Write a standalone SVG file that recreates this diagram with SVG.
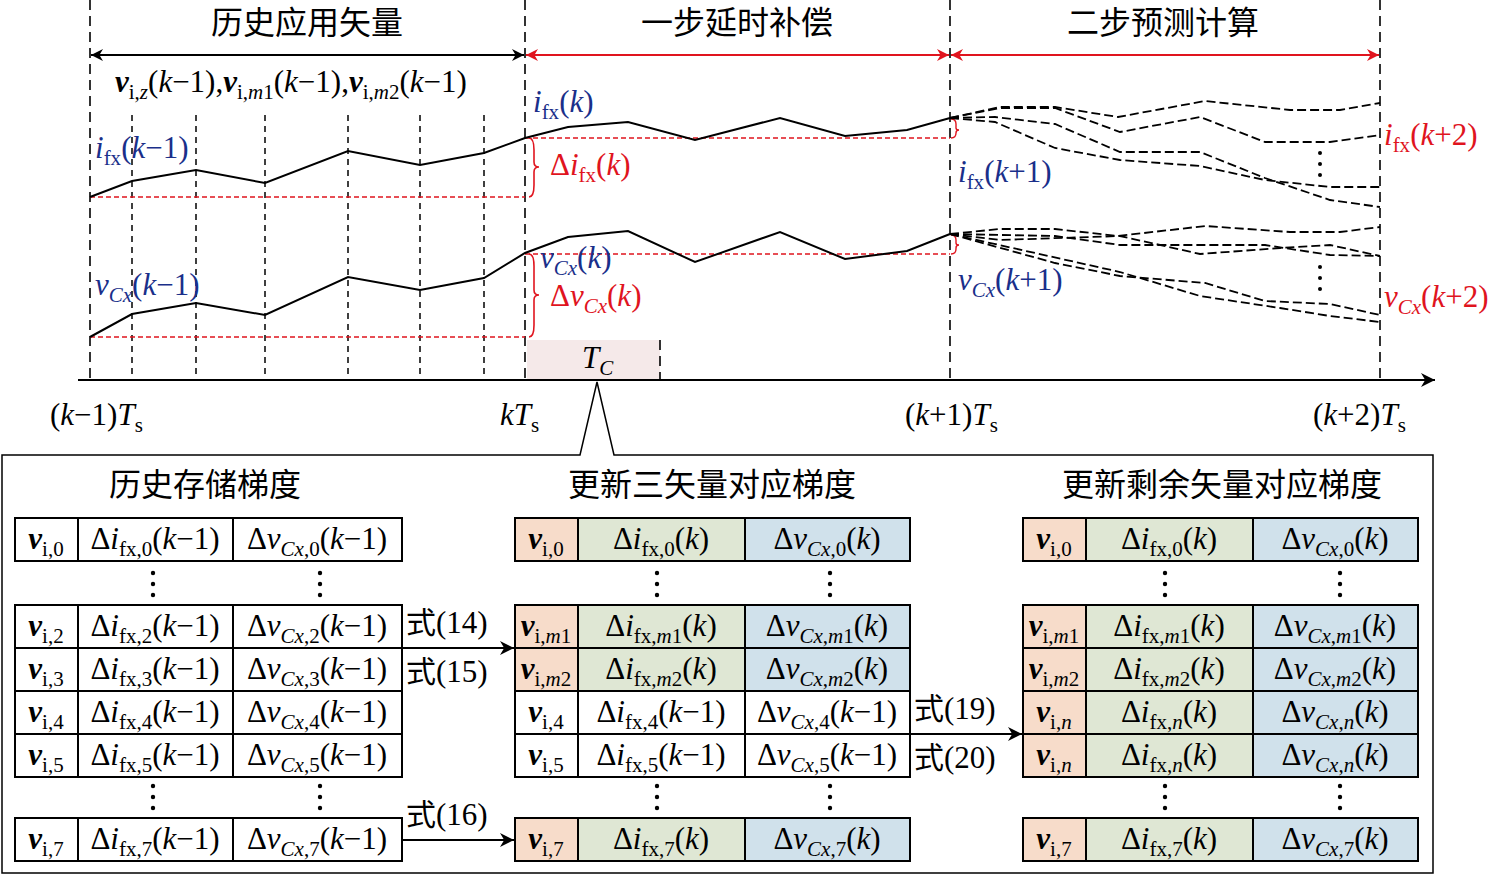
<svg xmlns="http://www.w3.org/2000/svg" width="1501" height="875" viewBox="0 0 1501 875">
<style>
text{font-family:"Liberation Serif","Times New Roman",serif;font-size:31px;fill:#000}
.cn{font-family:"Noto Sans CJK SC","Liberation Serif",sans-serif;font-size:32px}
.i{font-style:italic}
.b{font-style:italic;font-weight:bold}
.s{font-size:21px}
.blue{fill:#1a2f8a}
.red{fill:#e0141e}
.ld{stroke:#000;stroke-width:1.6;stroke-dasharray:10 6;fill:none}
.sd{stroke:#000;stroke-width:1.5;stroke-dasharray:6 5;fill:none}
.rd{stroke:#e0141e;stroke-width:1.5;stroke-dasharray:5 3;fill:none}
.cur{stroke:#000;stroke-width:2;fill:none}
.pd{stroke:#000;stroke-width:1.8;stroke-dasharray:9 4;fill:none}
.cell{stroke:#000;stroke-width:2;fill:#fff}
.o{stroke:#000;stroke-width:2;fill:#f7dcca}
.g{stroke:#000;stroke-width:2;fill:#dfe7d4}
.bl{stroke:#000;stroke-width:2;fill:#d0e1eb}
.dot{fill:#000}
</style>
<defs>
<marker id="ab" viewBox="0 0 10 10" refX="10" refY="5" markerWidth="12" markerHeight="12" orient="auto-start-reverse" markerUnits="userSpaceOnUse"><path d="M0,0 L10,5 L0,10 L3,5 z" fill="#000"/></marker>
<marker id="ar" viewBox="0 0 10 10" refX="10" refY="5" markerWidth="12" markerHeight="12" orient="auto-start-reverse" markerUnits="userSpaceOnUse"><path d="M0,0 L10,5 L0,10 L3,5 z" fill="#e0141e"/></marker>
<marker id="ax" viewBox="0 0 10 10" refX="10" refY="5" markerWidth="20" markerHeight="14" orient="auto" markerUnits="userSpaceOnUse"><path d="M0,0 L10,5 L0,10 L3,5 z" fill="#000"/></marker>
</defs>

<g id="timeline">
<rect x="527" y="340" width="133" height="40" fill="#f5e9e9"/>
<line class="ld" x1="660" y1="340" x2="660" y2="380"/>
<line class="ld" x1="90" y1="0" x2="90" y2="380"/>
<line class="ld" x1="525" y1="0" x2="525" y2="380"/>
<line class="ld" x1="950" y1="0" x2="950" y2="380"/>
<line class="ld" x1="1380" y1="0" x2="1380" y2="380"/>
<g class="sd">
<line x1="132" y1="115" x2="132" y2="380"/><line x1="196" y1="115" x2="196" y2="380"/><line x1="265" y1="115" x2="265" y2="380"/><line x1="348" y1="115" x2="348" y2="380"/><line x1="420" y1="115" x2="420" y2="380"/><line x1="484" y1="115" x2="484" y2="380"/>
</g>
<line x1="78" y1="380" x2="1435" y2="380" stroke="#000" stroke-width="2" marker-end="url(#ax)"/>
<line x1="91" y1="55" x2="524" y2="55" stroke="#000" stroke-width="2" marker-start="url(#ab)" marker-end="url(#ab)"/>
<line x1="526" y1="55" x2="949" y2="55" stroke="#e0141e" stroke-width="2" marker-start="url(#ar)" marker-end="url(#ar)"/>
<line x1="951" y1="55" x2="1379" y2="55" stroke="#e0141e" stroke-width="2" marker-start="url(#ar)" marker-end="url(#ar)"/>
<text class="cn" x="307" y="34" text-anchor="middle">历史应用矢量</text>
<text class="cn" x="737" y="34" text-anchor="middle">一步延时补偿</text>
<text class="cn" x="1163" y="34" text-anchor="middle">二步预测计算</text>
<text x="115" y="92"><tspan class="b">v</tspan><tspan class="s" dy="7">i,</tspan><tspan class="s i">z</tspan><tspan dy="-7">(</tspan><tspan class="i">k</tspan>−1),<tspan class="b">v</tspan><tspan class="s" dy="7">i,</tspan><tspan class="s i">m</tspan><tspan class="s">1</tspan><tspan dy="-7">(</tspan><tspan class="i">k</tspan>−1),<tspan class="b">v</tspan><tspan class="s" dy="7">i,</tspan><tspan class="s i">m</tspan><tspan class="s">2</tspan><tspan dy="-7">(</tspan><tspan class="i">k</tspan>−1)</text>

<path class="rd" d="M90,197 H525 M525,138 H950 M90,337 H525 M525,254 H950"/>
<path d="M529,138 Q534,138 534,150 V162 Q534,167 539,167 Q534,167 534,172 V185 Q534,197 529,197" stroke="#e0141e" stroke-width="1.6" fill="none"/>
<path d="M529,254 Q534,254 534,266 V290 Q534,295 539,295 Q534,295 534,300 V325 Q534,337 529,337" stroke="#e0141e" stroke-width="1.6" fill="none"/>
<path d="M951,119 Q956,119 956,124 V128 Q956,130 959,130 Q956,130 956,133 V133 Q956,138 951,138" stroke="#e0141e" stroke-width="1.4" fill="none"/>
<path d="M951,235 Q956,235 956,240 V243 Q956,245 959,245 Q956,245 956,248 V249 Q956,254 951,254" stroke="#e0141e" stroke-width="1.4" fill="none"/>

<polyline class="cur" points="90,197 132,181 196,170 265,183 348,151 420,165 484,153 525,138 568,127 628,122 695,140 780,118 845,136 907,130 950,118"/>
<polyline class="cur" points="90,337 132,314 196,303 265,315 348,277 420,290 484,278 525,253 568,237 628,231 695,262 780,232 845,259 907,251 950,234"/>

<polyline class="pd" points="950,118 1000,107 1055,107 1118,117 1205,101 1290,110 1340,110 1380,103"/>
<polyline class="pd" points="950,118 1000,108 1055,108 1120,132 1200,117 1265,142 1330,142 1380,135"/>
<polyline class="pd" points="950,118 995,117 1055,124 1120,152 1200,152 1265,178 1330,200 1380,207"/>
<polyline class="pd" points="950,118 995,122 1055,148 1120,160 1200,166 1265,180 1330,187 1380,187"/>
<polyline class="pd" points="950,234 1000,229 1055,229 1118,236 1205,226 1290,232 1340,232 1380,227"/>
<polyline class="pd" points="950,234 1055,236 1120,245 1200,245 1265,245 1330,255 1380,256"/>
<polyline class="pd" points="950,234 1000,240 1120,236 1200,254 1280,248 1330,245 1380,256"/>
<polyline class="pd" points="950,234 1055,263 1120,276 1205,283 1265,301 1330,304 1380,315"/>
<polyline class="pd" points="950,234 1120,272 1200,296 1280,308 1330,316 1380,322"/>
<g class="dot"><circle cx="1320" cy="153" r="2"/><circle cx="1320" cy="164" r="2"/><circle cx="1320" cy="175" r="2"/><circle cx="1320" cy="267" r="2"/><circle cx="1320" cy="278" r="2"/><circle cx="1320" cy="289" r="2"/></g>

<text class="blue" x="95" y="158"><tspan class="i">i</tspan><tspan class="s" dy="7">fx</tspan><tspan dy="-7">(</tspan><tspan class="i">k</tspan>−1)</text>
<text class="blue" x="95" y="295"><tspan class="i">v</tspan><tspan class="s i" dy="7">Cx</tspan><tspan dy="-7">(</tspan><tspan class="i">k</tspan>−1)</text>
<text class="blue" x="533" y="112"><tspan class="i">i</tspan><tspan class="s" dy="7">fx</tspan><tspan dy="-7">(</tspan><tspan class="i">k</tspan>)</text>
<text class="blue" x="540" y="268"><tspan class="i">v</tspan><tspan class="s i" dy="7">Cx</tspan><tspan dy="-7">(</tspan><tspan class="i">k</tspan>)</text>
<text class="red" x="550" y="175">Δ<tspan class="i">i</tspan><tspan class="s" dy="7">fx</tspan><tspan dy="-7">(</tspan><tspan class="i">k</tspan>)</text>
<text class="red" x="550" y="306">Δ<tspan class="i">v</tspan><tspan class="s i" dy="7">Cx</tspan><tspan dy="-7">(</tspan><tspan class="i">k</tspan>)</text>
<text class="blue" x="958" y="182"><tspan class="i">i</tspan><tspan class="s" dy="7">fx</tspan><tspan dy="-7">(</tspan><tspan class="i">k</tspan>+1)</text>
<text class="blue" x="958" y="290"><tspan class="i">v</tspan><tspan class="s i" dy="7">Cx</tspan><tspan dy="-7">(</tspan><tspan class="i">k</tspan>+1)</text>
<text class="red" x="1384" y="145"><tspan class="i">i</tspan><tspan class="s" dy="7">fx</tspan><tspan dy="-7">(</tspan><tspan class="i">k</tspan>+2)</text>
<text class="red" x="1384" y="307"><tspan class="i">v</tspan><tspan class="s i" dy="7">Cx</tspan><tspan dy="-7">(</tspan><tspan class="i">k</tspan>+2)</text>
<text x="582" y="368"><tspan class="i">T</tspan><tspan class="s i" dy="7">C</tspan></text>
<text x="50" y="425">(<tspan class="i">k</tspan>−1)<tspan class="i">T</tspan><tspan class="s" dy="7">s</tspan></text>
<text x="500" y="425"><tspan class="i">kT</tspan><tspan class="s" dy="7">s</tspan></text>
<text x="905" y="425">(<tspan class="i">k</tspan>+1)<tspan class="i">T</tspan><tspan class="s" dy="7">s</tspan></text>
<text x="1313" y="425">(<tspan class="i">k</tspan>+2)<tspan class="i">T</tspan><tspan class="s" dy="7">s</tspan></text>
</g>

<g id="panel">
<path d="M2,455 H580 L597,382 L614,455 H1433 V873 H2 Z" fill="none" stroke="#000" stroke-width="1.5"/>
<text class="cn" x="205" y="496" text-anchor="middle">历史存储梯度</text>
<text class="cn" x="712" y="496" text-anchor="middle">更新三矢量对应梯度</text>
<text class="cn" x="1222" y="496" text-anchor="middle">更新剩余矢量对应梯度</text>
</g>

<g id="table1" text-anchor="middle">
<rect class="cell" x="15" y="518" width="63" height="43"/><rect class="cell" x="78" y="518" width="155" height="43"/><rect class="cell" x="233" y="518" width="169" height="43"/>
<rect class="cell" x="15" y="605" width="63" height="43"/><rect class="cell" x="78" y="605" width="155" height="43"/><rect class="cell" x="233" y="605" width="169" height="43"/>
<rect class="cell" x="15" y="648" width="63" height="43"/><rect class="cell" x="78" y="648" width="155" height="43"/><rect class="cell" x="233" y="648" width="169" height="43"/>
<rect class="cell" x="15" y="691" width="63" height="43"/><rect class="cell" x="78" y="691" width="155" height="43"/><rect class="cell" x="233" y="691" width="169" height="43"/>
<rect class="cell" x="15" y="734" width="63" height="43"/><rect class="cell" x="78" y="734" width="155" height="43"/><rect class="cell" x="233" y="734" width="169" height="43"/>
<rect class="cell" x="15" y="818" width="63" height="43"/><rect class="cell" x="78" y="818" width="155" height="43"/><rect class="cell" x="233" y="818" width="169" height="43"/>
<text x="46" y="549"><tspan class="b">v</tspan><tspan class="s" dy="7">i,0</tspan></text>
<text x="155" y="549">Δ<tspan class="i">i</tspan><tspan class="s" dy="7">fx,0</tspan><tspan dy="-7">(</tspan><tspan class="i">k</tspan>−1)</text>
<text x="317" y="549">Δ<tspan class="i">v</tspan><tspan class="s i" dy="7">Cx</tspan><tspan class="s">,0</tspan><tspan dy="-7">(</tspan><tspan class="i">k</tspan>−1)</text>
<text x="46" y="636"><tspan class="b">v</tspan><tspan class="s" dy="7">i,2</tspan></text>
<text x="155" y="636">Δ<tspan class="i">i</tspan><tspan class="s" dy="7">fx,2</tspan><tspan dy="-7">(</tspan><tspan class="i">k</tspan>−1)</text>
<text x="317" y="636">Δ<tspan class="i">v</tspan><tspan class="s i" dy="7">Cx</tspan><tspan class="s">,2</tspan><tspan dy="-7">(</tspan><tspan class="i">k</tspan>−1)</text>
<text x="46" y="679"><tspan class="b">v</tspan><tspan class="s" dy="7">i,3</tspan></text>
<text x="155" y="679">Δ<tspan class="i">i</tspan><tspan class="s" dy="7">fx,3</tspan><tspan dy="-7">(</tspan><tspan class="i">k</tspan>−1)</text>
<text x="317" y="679">Δ<tspan class="i">v</tspan><tspan class="s i" dy="7">Cx</tspan><tspan class="s">,3</tspan><tspan dy="-7">(</tspan><tspan class="i">k</tspan>−1)</text>
<text x="46" y="722"><tspan class="b">v</tspan><tspan class="s" dy="7">i,4</tspan></text>
<text x="155" y="722">Δ<tspan class="i">i</tspan><tspan class="s" dy="7">fx,4</tspan><tspan dy="-7">(</tspan><tspan class="i">k</tspan>−1)</text>
<text x="317" y="722">Δ<tspan class="i">v</tspan><tspan class="s i" dy="7">Cx</tspan><tspan class="s">,4</tspan><tspan dy="-7">(</tspan><tspan class="i">k</tspan>−1)</text>
<text x="46" y="765"><tspan class="b">v</tspan><tspan class="s" dy="7">i,5</tspan></text>
<text x="155" y="765">Δ<tspan class="i">i</tspan><tspan class="s" dy="7">fx,5</tspan><tspan dy="-7">(</tspan><tspan class="i">k</tspan>−1)</text>
<text x="317" y="765">Δ<tspan class="i">v</tspan><tspan class="s i" dy="7">Cx</tspan><tspan class="s">,5</tspan><tspan dy="-7">(</tspan><tspan class="i">k</tspan>−1)</text>
<text x="46" y="849"><tspan class="b">v</tspan><tspan class="s" dy="7">i,7</tspan></text>
<text x="155" y="849">Δ<tspan class="i">i</tspan><tspan class="s" dy="7">fx,7</tspan><tspan dy="-7">(</tspan><tspan class="i">k</tspan>−1)</text>
<text x="317" y="849">Δ<tspan class="i">v</tspan><tspan class="s i" dy="7">Cx</tspan><tspan class="s">,7</tspan><tspan dy="-7">(</tspan><tspan class="i">k</tspan>−1)</text>
<g class="dot"><circle cx="153" cy="573" r="2.2"/><circle cx="153" cy="584" r="2.2"/><circle cx="153" cy="595" r="2.2"/><circle cx="320" cy="573" r="2.2"/><circle cx="320" cy="584" r="2.2"/><circle cx="320" cy="595" r="2.2"/>
<circle cx="153" cy="786" r="2.2"/><circle cx="153" cy="797" r="2.2"/><circle cx="153" cy="808" r="2.2"/><circle cx="320" cy="786" r="2.2"/><circle cx="320" cy="797" r="2.2"/><circle cx="320" cy="808" r="2.2"/></g>
</g>

<g id="table2" text-anchor="middle">
<rect class="o" x="515" y="518" width="63" height="43"/><rect class="g" x="578" y="518" width="167" height="43"/><rect class="bl" x="745" y="518" width="165" height="43"/>
<rect class="o" x="515" y="605" width="63" height="43"/><rect class="g" x="578" y="605" width="167" height="43"/><rect class="bl" x="745" y="605" width="165" height="43"/>
<rect class="o" x="515" y="648" width="63" height="43"/><rect class="g" x="578" y="648" width="167" height="43"/><rect class="bl" x="745" y="648" width="165" height="43"/>
<rect class="cell" x="515" y="691" width="63" height="43"/><rect class="cell" x="578" y="691" width="167" height="43"/><rect class="cell" x="745" y="691" width="165" height="43"/>
<rect class="cell" x="515" y="734" width="63" height="43"/><rect class="cell" x="578" y="734" width="167" height="43"/><rect class="cell" x="745" y="734" width="165" height="43"/>
<rect class="o" x="515" y="818" width="63" height="43"/><rect class="g" x="578" y="818" width="167" height="43"/><rect class="bl" x="745" y="818" width="165" height="43"/>
<text x="546" y="549"><tspan class="b">v</tspan><tspan class="s" dy="7">i,0</tspan></text>
<text x="661" y="549">Δ<tspan class="i">i</tspan><tspan class="s" dy="7">fx,0</tspan><tspan dy="-7">(</tspan><tspan class="i">k</tspan>)</text>
<text x="827" y="549">Δ<tspan class="i">v</tspan><tspan class="s i" dy="7">Cx</tspan><tspan class="s">,0</tspan><tspan dy="-7">(</tspan><tspan class="i">k</tspan>)</text>
<text x="546" y="636"><tspan class="b">v</tspan><tspan class="s" dy="7">i,</tspan><tspan class="s i">m</tspan><tspan class="s">1</tspan></text>
<text x="661" y="636">Δ<tspan class="i">i</tspan><tspan class="s" dy="7">fx,</tspan><tspan class="s i">m</tspan><tspan class="s">1</tspan><tspan dy="-7">(</tspan><tspan class="i">k</tspan>)</text>
<text x="827" y="636">Δ<tspan class="i">v</tspan><tspan class="s i" dy="7">Cx</tspan><tspan class="s">,</tspan><tspan class="s i">m</tspan><tspan class="s">1</tspan><tspan dy="-7">(</tspan><tspan class="i">k</tspan>)</text>
<text x="546" y="679"><tspan class="b">v</tspan><tspan class="s" dy="7">i,</tspan><tspan class="s i">m</tspan><tspan class="s">2</tspan></text>
<text x="661" y="679">Δ<tspan class="i">i</tspan><tspan class="s" dy="7">fx,</tspan><tspan class="s i">m</tspan><tspan class="s">2</tspan><tspan dy="-7">(</tspan><tspan class="i">k</tspan>)</text>
<text x="827" y="679">Δ<tspan class="i">v</tspan><tspan class="s i" dy="7">Cx</tspan><tspan class="s">,</tspan><tspan class="s i">m</tspan><tspan class="s">2</tspan><tspan dy="-7">(</tspan><tspan class="i">k</tspan>)</text>
<text x="546" y="722"><tspan class="b">v</tspan><tspan class="s" dy="7">i,4</tspan></text>
<text x="661" y="722">Δ<tspan class="i">i</tspan><tspan class="s" dy="7">fx,4</tspan><tspan dy="-7">(</tspan><tspan class="i">k</tspan>−1)</text>
<text x="827" y="722">Δ<tspan class="i">v</tspan><tspan class="s i" dy="7">Cx</tspan><tspan class="s">,4</tspan><tspan dy="-7">(</tspan><tspan class="i">k</tspan>−1)</text>
<text x="546" y="765"><tspan class="b">v</tspan><tspan class="s" dy="7">i,5</tspan></text>
<text x="661" y="765">Δ<tspan class="i">i</tspan><tspan class="s" dy="7">fx,5</tspan><tspan dy="-7">(</tspan><tspan class="i">k</tspan>−1)</text>
<text x="827" y="765">Δ<tspan class="i">v</tspan><tspan class="s i" dy="7">Cx</tspan><tspan class="s">,5</tspan><tspan dy="-7">(</tspan><tspan class="i">k</tspan>−1)</text>
<text x="546" y="849"><tspan class="b">v</tspan><tspan class="s" dy="7">i,7</tspan></text>
<text x="661" y="849">Δ<tspan class="i">i</tspan><tspan class="s" dy="7">fx,7</tspan><tspan dy="-7">(</tspan><tspan class="i">k</tspan>)</text>
<text x="827" y="849">Δ<tspan class="i">v</tspan><tspan class="s i" dy="7">Cx</tspan><tspan class="s">,7</tspan><tspan dy="-7">(</tspan><tspan class="i">k</tspan>)</text>
<g class="dot"><circle cx="657" cy="573" r="2.2"/><circle cx="657" cy="584" r="2.2"/><circle cx="657" cy="595" r="2.2"/><circle cx="830" cy="573" r="2.2"/><circle cx="830" cy="584" r="2.2"/><circle cx="830" cy="595" r="2.2"/>
<circle cx="657" cy="786" r="2.2"/><circle cx="657" cy="797" r="2.2"/><circle cx="657" cy="808" r="2.2"/><circle cx="830" cy="786" r="2.2"/><circle cx="830" cy="797" r="2.2"/><circle cx="830" cy="808" r="2.2"/></g>
</g>

<g id="table3" text-anchor="middle">
<rect class="o" x="1023" y="518" width="63" height="43"/><rect class="g" x="1086" y="518" width="167" height="43"/><rect class="bl" x="1253" y="518" width="165" height="43"/>
<rect class="o" x="1023" y="605" width="63" height="43"/><rect class="g" x="1086" y="605" width="167" height="43"/><rect class="bl" x="1253" y="605" width="165" height="43"/>
<rect class="o" x="1023" y="648" width="63" height="43"/><rect class="g" x="1086" y="648" width="167" height="43"/><rect class="bl" x="1253" y="648" width="165" height="43"/>
<rect class="o" x="1023" y="691" width="63" height="43"/><rect class="g" x="1086" y="691" width="167" height="43"/><rect class="bl" x="1253" y="691" width="165" height="43"/>
<rect class="o" x="1023" y="734" width="63" height="43"/><rect class="g" x="1086" y="734" width="167" height="43"/><rect class="bl" x="1253" y="734" width="165" height="43"/>
<rect class="o" x="1023" y="818" width="63" height="43"/><rect class="g" x="1086" y="818" width="167" height="43"/><rect class="bl" x="1253" y="818" width="165" height="43"/>
<text x="1054" y="549"><tspan class="b">v</tspan><tspan class="s" dy="7">i,0</tspan></text>
<text x="1169" y="549">Δ<tspan class="i">i</tspan><tspan class="s" dy="7">fx,0</tspan><tspan dy="-7">(</tspan><tspan class="i">k</tspan>)</text>
<text x="1335" y="549">Δ<tspan class="i">v</tspan><tspan class="s i" dy="7">Cx</tspan><tspan class="s">,0</tspan><tspan dy="-7">(</tspan><tspan class="i">k</tspan>)</text>
<text x="1054" y="636"><tspan class="b">v</tspan><tspan class="s" dy="7">i,</tspan><tspan class="s i">m</tspan><tspan class="s">1</tspan></text>
<text x="1169" y="636">Δ<tspan class="i">i</tspan><tspan class="s" dy="7">fx,</tspan><tspan class="s i">m</tspan><tspan class="s">1</tspan><tspan dy="-7">(</tspan><tspan class="i">k</tspan>)</text>
<text x="1335" y="636">Δ<tspan class="i">v</tspan><tspan class="s i" dy="7">Cx</tspan><tspan class="s">,</tspan><tspan class="s i">m</tspan><tspan class="s">1</tspan><tspan dy="-7">(</tspan><tspan class="i">k</tspan>)</text>
<text x="1054" y="679"><tspan class="b">v</tspan><tspan class="s" dy="7">i,</tspan><tspan class="s i">m</tspan><tspan class="s">2</tspan></text>
<text x="1169" y="679">Δ<tspan class="i">i</tspan><tspan class="s" dy="7">fx,</tspan><tspan class="s i">m</tspan><tspan class="s">2</tspan><tspan dy="-7">(</tspan><tspan class="i">k</tspan>)</text>
<text x="1335" y="679">Δ<tspan class="i">v</tspan><tspan class="s i" dy="7">Cx</tspan><tspan class="s">,</tspan><tspan class="s i">m</tspan><tspan class="s">2</tspan><tspan dy="-7">(</tspan><tspan class="i">k</tspan>)</text>
<text x="1054" y="722"><tspan class="b">v</tspan><tspan class="s" dy="7">i,</tspan><tspan class="s i">n</tspan></text>
<text x="1169" y="722">Δ<tspan class="i">i</tspan><tspan class="s" dy="7">fx,</tspan><tspan class="s i">n</tspan><tspan dy="-7">(</tspan><tspan class="i">k</tspan>)</text>
<text x="1335" y="722">Δ<tspan class="i">v</tspan><tspan class="s i" dy="7">Cx</tspan><tspan class="s">,</tspan><tspan class="s i">n</tspan><tspan dy="-7">(</tspan><tspan class="i">k</tspan>)</text>
<text x="1054" y="765"><tspan class="b">v</tspan><tspan class="s" dy="7">i,</tspan><tspan class="s i">n</tspan></text>
<text x="1169" y="765">Δ<tspan class="i">i</tspan><tspan class="s" dy="7">fx,</tspan><tspan class="s i">n</tspan><tspan dy="-7">(</tspan><tspan class="i">k</tspan>)</text>
<text x="1335" y="765">Δ<tspan class="i">v</tspan><tspan class="s i" dy="7">Cx</tspan><tspan class="s">,</tspan><tspan class="s i">n</tspan><tspan dy="-7">(</tspan><tspan class="i">k</tspan>)</text>
<text x="1054" y="849"><tspan class="b">v</tspan><tspan class="s" dy="7">i,7</tspan></text>
<text x="1169" y="849">Δ<tspan class="i">i</tspan><tspan class="s" dy="7">fx,7</tspan><tspan dy="-7">(</tspan><tspan class="i">k</tspan>)</text>
<text x="1335" y="849">Δ<tspan class="i">v</tspan><tspan class="s i" dy="7">Cx</tspan><tspan class="s">,7</tspan><tspan dy="-7">(</tspan><tspan class="i">k</tspan>)</text>
<g class="dot"><circle cx="1165" cy="573" r="2.2"/><circle cx="1165" cy="584" r="2.2"/><circle cx="1165" cy="595" r="2.2"/><circle cx="1340" cy="573" r="2.2"/><circle cx="1340" cy="584" r="2.2"/><circle cx="1340" cy="595" r="2.2"/>
<circle cx="1165" cy="786" r="2.2"/><circle cx="1165" cy="797" r="2.2"/><circle cx="1165" cy="808" r="2.2"/><circle cx="1340" cy="786" r="2.2"/><circle cx="1340" cy="797" r="2.2"/><circle cx="1340" cy="808" r="2.2"/></g>
</g>

<g id="connectors">
<line x1="402" y1="648" x2="514" y2="648" stroke="#000" stroke-width="2" marker-end="url(#ax)"/>
<line x1="402" y1="840" x2="514" y2="840" stroke="#000" stroke-width="2" marker-end="url(#ax)"/>
<line x1="910" y1="734" x2="1022" y2="734" stroke="#000" stroke-width="2" marker-end="url(#ax)"/>
<text x="406" y="633"><tspan class="cn" style="font-size:30px">式</tspan>(14)</text>
<text x="406" y="682"><tspan class="cn" style="font-size:30px">式</tspan>(15)</text>
<text x="406" y="825"><tspan class="cn" style="font-size:30px">式</tspan>(16)</text>
<text x="914" y="719"><tspan class="cn" style="font-size:30px">式</tspan>(19)</text>
<text x="914" y="768"><tspan class="cn" style="font-size:30px">式</tspan>(20)</text>
</g>
</svg>
